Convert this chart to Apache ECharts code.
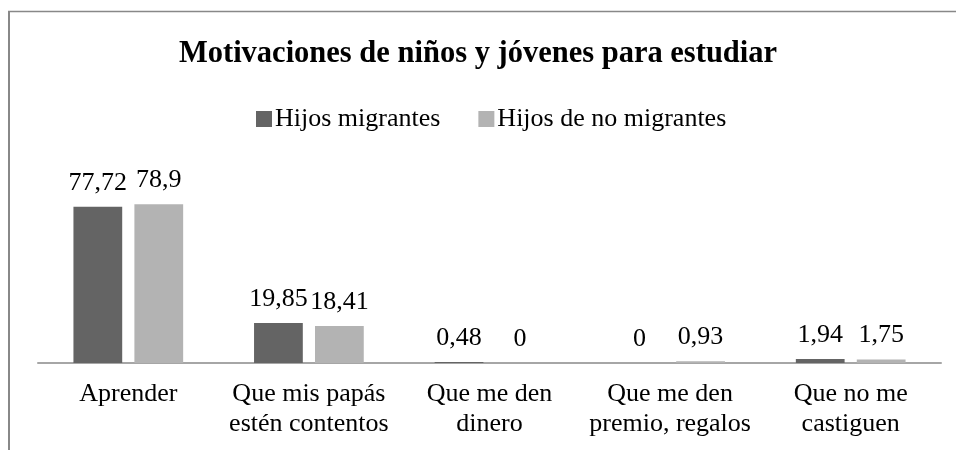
<!DOCTYPE html>
<html>
<head>
<meta charset="utf-8">
<script src="https://cdn.jsdelivr.net/npm/echarts@6/dist/echarts.min.js"></script>
<style>html,body{margin:0;padding:0;background:#fff}#c{width:956px;height:450px}</style>
</head>
<body>
<div id="c"></div>
<script>
const titleText = 'Motivaciones de niños y jóvenes para estudiar';
const categories = ['Aprender', 'Que mis papás\nestén contentos', 'Que me den\ndinero', 'Que me den\npremio, regalos', 'Que no me\ncastiguen'];
const seriesNames = ['Hijos migrantes', 'Hijos de no migrantes'];
const migrantes = [77.72, 19.85, 0.48, 0, 1.94];
const noMigrantes = [78.9, 18.41, 0, 0.93, 1.75];

const FONT = '"Liberation Serif", "Times New Roman", serif';
const fmt = p => String(p.value).replace('.', ',');

const chart = echarts.init(document.getElementById('c'), null, {renderer: 'canvas'});
chart.setOption({
  animation: false,
  backgroundColor: '#ffffff',
  title: {
    text: titleText,
    left: 'center',
    top: 34,
    textStyle: {fontFamily: FONT, fontWeight: 'bold', fontSize: 30.5, color: '#000'}
  },
  legend: {
    left: 251,
    top: 101,
    itemWidth: 16,
    itemHeight: 16,
    itemGap: 38,
    icon: 'rect',
    textStyle: {fontFamily: FONT, fontSize: 26, color: '#000', padding: [0, 0, 0, -2]},
    data: seriesNames
  },
  grid: {left: 38, right: 15, top: 182, bottom: 87},
  xAxis: {
    type: 'category',
    data: categories,
    axisLine: {lineStyle: {color: '#a6a6a6', width: 2}},
    axisTick: {show: false},
    axisLabel: {fontFamily: FONT, fontSize: 26, color: '#000', margin: 16, lineHeight: 30, interval: 0}
  },
  yAxis: {
    type: 'value', min: 0, max: 90, show: false, splitLine: {show: false}
  },
  series: [
    {
      name: seriesNames[0], type: 'bar', data: migrantes,
      barWidth: '27%', barGap: '25%',
      itemStyle: {color: '#646464'},
      label: {show: true, position: 'top', distance: 11, formatter: fmt, fontFamily: FONT, fontSize: 26, color: '#000'}
    },
    {
      name: seriesNames[1], type: 'bar', data: noMigrantes,
      barWidth: '27%', barGap: '25%',
      itemStyle: {color: '#b3b3b3'},
      label: {show: true, position: 'top', distance: 11, formatter: fmt, fontFamily: FONT, fontSize: 26, color: '#000'}
    }
  ],
  graphic: [
    {type: 'line', shape: {x1: 8, y1: 11.5, x2: 956, y2: 11.5}, style: {stroke: '#888', lineWidth: 1.5}},
    {type: 'line', shape: {x1: 9, y1: 11, x2: 9, y2: 450}, style: {stroke: '#888', lineWidth: 2}}
  ]
});
</script>
</body>
</html>
